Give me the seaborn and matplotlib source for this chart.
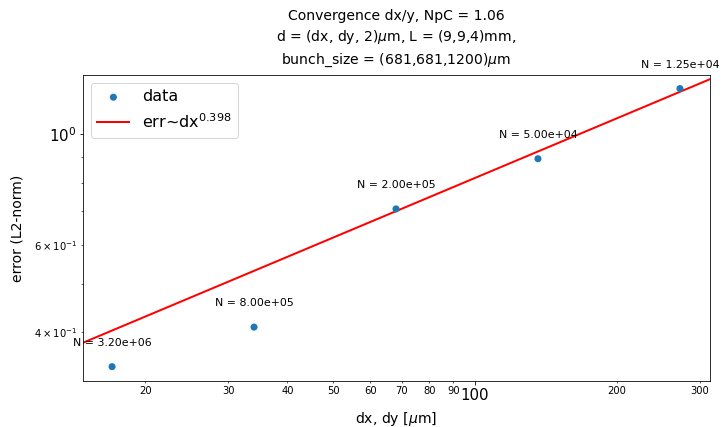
import numpy as np
import pandas as pd
import matplotlib
matplotlib.use("Agg")
import matplotlib.pyplot as plt
from matplotlib.ticker import ScalarFormatter
import seaborn as sns

# data
dx = [17, 34, 68, 136, 272]
err = [0.3415, 0.410, 0.708, 0.893, 1.235]
n_particles = [3.2e6, 8.0e5, 2.0e5, 5.0e4, 1.25e4]
fit_exponent = 0.398
fit_coeff_at_100 = 0.817
fit_range = [10, 400]

df = pd.DataFrame({"dx": dx, "err": err})
fit_x = np.array(fit_range, dtype=float)
fit_df = pd.DataFrame({"dx": fit_x, "err": fit_coeff_at_100 * (fit_x / 100.0) ** fit_exponent})

fig = plt.figure(figsize=(722 / 72, 427 / 72), dpi=72)
ax = fig.add_axes([83 / 722, 1 - 381 / 427, (710 - 83) / 722, (381 - 75) / 427])

sns.scatterplot(data=df, x="dx", y="err", ax=ax, color="#1f77b4", s=50,
                edgecolor="none", label="data", zorder=3)
sns.lineplot(data=fit_df, x="dx", y="err", ax=ax, color="red", linewidth=2,
             label=r"err~dx$^{%.3f}$" % fit_exponent, zorder=2)

ax.set_xscale("log")
ax.set_yscale("log")
ax.set_xlim(14.75, 315)
ax.set_ylim(0.3196, 1.315)

ax.xaxis.set_major_formatter(ScalarFormatter())
ax.xaxis.set_minor_formatter(ScalarFormatter())
ax.tick_params(axis="both", which="major", labelsize=15)
ax.tick_params(axis="both", which="minor", labelsize=10)

for x, y, n in zip(dx, err, n_particles):
    ax.annotate(f"N = {n:.2e}", (x, y), textcoords="offset points",
                xytext=(0, 24), ha="center", va="center", fontsize=11,
                annotation_clip=False)

ax.set_xlabel(r"dx, dy [$\mu$m]", fontsize=14, labelpad=7)
ax.set_ylabel("error (L2-norm)", fontsize=14, labelpad=10)
ax.set_title("Convergence dx/y, NpC = 1.06\n"
             r"d = (dx, dy, 2)$\mu$m, L = (9,9,4)mm," "\n"
             r"bunch_size = (681,681,1200)$\mu$m", fontsize=14, pad=11,
             linespacing=1.45)

ax.legend(loc="upper left", fontsize=16)

fig.savefig("out.png", dpi=72)
